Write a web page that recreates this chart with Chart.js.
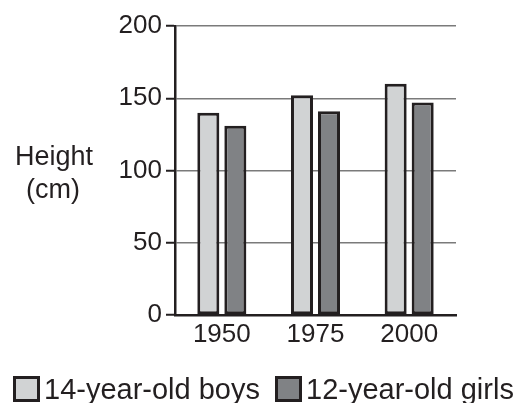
<!DOCTYPE html>
<html>
<head>
<meta charset="utf-8">
<script src="https://cdn.jsdelivr.net/npm/chart.js@4"></script>
<style>
  html, body { margin: 0; padding: 0; background: #fff; }
  #wrap { position: relative; width: 519px; height: 403px; overflow: hidden; }
  #legend { position: absolute; left: 13px; top: 375px; width: 520px; display: flex; align-items: center;
            font-family: "Liberation Sans", Arial, sans-serif; font-size: 29px; color: #231f20;
            white-space: nowrap; line-height: 28px; }
  .item { display: flex; align-items: center; margin-right: 15px; flex-shrink: 0; }
  .box { width: 21px; height: 20px; border: 3px solid #231f20; margin-right: 4px; flex-shrink: 0; }
</style>
</head>
<body>
<div id="wrap">
  <canvas id="myChart" width="519" height="403"></canvas>
  <div id="legend"></div>
</div>
<script>
const years = ['1950', '1975', '2000'];
const boys = [140, 152, 160];
const girls = [131, 141, 147];
const seriesNames = ['14-year-old boys', '12-year-old girls'];
const yTitle = ['Height', '(cm)'];

const FONT = '"Liberation Sans", Arial, sans-serif';
const ink = '#231f20';

// vertical axis title, written level like in the print
const sideTitle = {
  id: 'sideTitle',
  afterDraw(chart) {
    const ctx = chart.ctx;
    ctx.save();
    ctx.font = '27px ' + FONT;
    ctx.fillStyle = ink;
    ctx.textAlign = 'center';
    ctx.textBaseline = 'middle';
    ctx.fillText(yTitle[0], 54, 158);
    ctx.fillText(yTitle[1], 53, 191);
    ctx.restore();
  }
};

const ctx1 = document.getElementById('myChart');
const myChart = new Chart(ctx1, {
  type: 'bar',
  data: {
    labels: years,
    datasets: [
      {
        label: seriesNames[0],
        data: boys,
        backgroundColor: '#d1d3d4',
        borderColor: ink,
        borderWidth: 3,
        borderSkipped: false
      },
      {
        label: seriesNames[1],
        data: girls,
        backgroundColor: '#808285',
        borderColor: ink,
        borderWidth: 3,
        borderSkipped: false
      }
    ]
  },
  options: {
    responsive: false,
    animation: false,
    categoryPercentage: 0.577,
    barPercentage: 0.815,
    layout: { padding: { top: 26, right: 63, left: 0, bottom: 0 } },
    plugins: {
      legend: { display: false },
      tooltip: { enabled: false }
    },
    scales: {
      x: {
        grid: { display: false },
        border: { color: ink, width: 2.5 },
        ticks: { color: ink, font: { family: FONT, size: 26 }, padding: -4 },
        afterFit(scale) { scale.height = 88; }
      },
      y: {
        min: 0,
        max: 200,
        ticks: { stepSize: 50, color: ink, font: { family: FONT, size: 26 }, padding: 4 },
        grid: { color: '#7a7a7a', lineWidth: 1.5, tickColor: ink, tickLength: 9, tickWidth: 2 },
        border: { color: ink, width: 2.5 },
        afterFit(scale) { scale.width = 175; }
      }
    }
  },
  plugins: [sideTitle]
});

// legend built from the datasets
const legend = document.getElementById('legend');
myChart.data.datasets.forEach(ds => {
  const item = document.createElement('div');
  item.className = 'item';
  const box = document.createElement('span');
  box.className = 'box';
  box.style.background = ds.backgroundColor;
  const txt = document.createElement('span');
  txt.textContent = ds.label;
  item.appendChild(box);
  item.appendChild(txt);
  legend.appendChild(item);
});
</script>
</body>
</html>
